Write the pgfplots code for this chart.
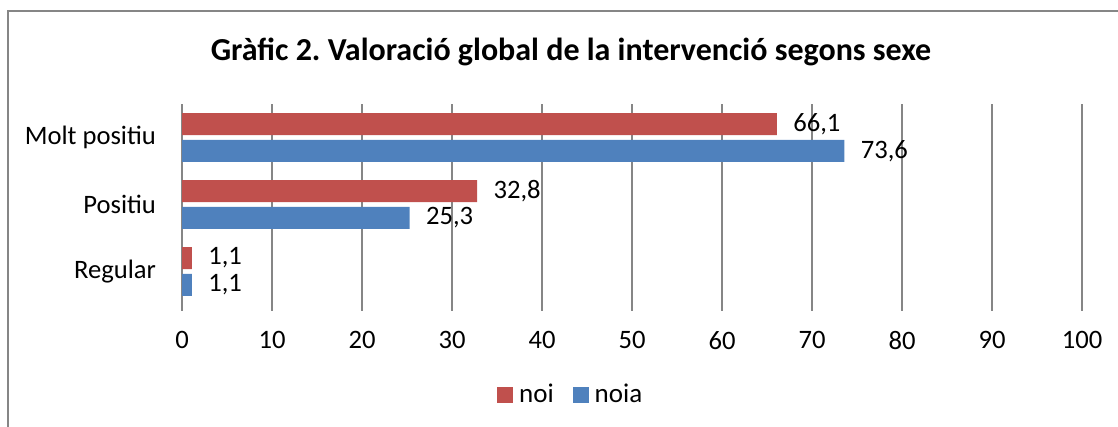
\documentclass[border=0pt]{standalone}
\usepackage{pgfplots}
\pgfplotsset{compat=1.18}
\usepackage{pgfplotstable}
\usepackage{fontspec}
\setmainfont{Carlito}
\frenchspacing

\definecolor{noired}{RGB}{192,80,77}
\definecolor{noiablue}{RGB}{79,129,189}
\definecolor{gridgray}{RGB}{134,134,134}

% y: 2 = Molt positiu, 1 = Positiu, 0 = Regular
\pgfplotstableread{
y x
2 66.1
1 32.8
0 1.1
}\noi
\pgfplotstableread{
y x
2 73.6
1 25.3
0 1.1
}\noia

\begin{document}
\begin{tikzpicture}
\useasboundingbox (0,0) rectangle (559pt,213.5pt);
% chart frame (cropped at right and bottom)
\draw[gridgray, line width=1pt] (4pt,0) -- (4pt,208pt) -- (559pt,208pt);
\node[font=\fontsize{16}{18}\selectfont\bfseries] at (285.5pt,187.5pt)
  {Gràfic 2. Valoració global de la intervenció segons sexe};

\begin{axis}[at={(91pt,61pt)}, anchor=south west,
    width=450pt, height=100.5pt, scale only axis,
    xbar, bar width=0.328,
    xmin=0, xmax=100, ymin=-0.5, ymax=2.5,
    xtick={0,10,...,100}, ytick={0,1,2},
    yticklabels={Regular,Positiu,Molt positiu},
    axis line style={draw=none},
    xmajorgrids, major grid style={gridgray, line width=0.9pt},
    xtick pos=left, ytick pos=left,
    tick align=outside, major tick length=3pt,
    x tick style={gridgray, line width=0.9pt},
    y tick style={draw=none},
    ticklabel style={font=\fontsize{13.3}{15}\selectfont},
    /pgf/number format/assume math mode=true,
    xticklabel style={yshift=-6.5pt},
    yticklabel style={xshift=-6.5pt},
    nodes near coords,
    nodes near coords style={anchor=west, inner sep=0pt, xshift=8pt,
        font=\fontsize{13.3}{15}\selectfont, black,
        /pgf/number format/fixed, /pgf/number format/fixed zerofill,
        /pgf/number format/precision=1, /pgf/number format/use comma,
        /pgf/number format/assume math mode=true},
    legend style={at={(axis description cs:0.433,-0.448)}, anchor=center,
        draw=none, legend columns=-1, font=\fontsize{13.5}{15}\selectfont,
        /tikz/every odd column/.append style={column sep=1pt},
        /tikz/every even column/.append style={column sep=7.5pt}},
    legend image code/.code={\fill[#1] (0pt,-4pt) rectangle (8pt,4pt);},
  ]
\addplot[fill=noired, draw=none, bar shift=0.2] table[x=x, y=y] {\noi};
\addplot[fill=noiablue, draw=none, bar shift=-0.2] table[x=x, y=y] {\noia};
\legend{noi, noia}
\end{axis}
\end{tikzpicture}
\end{document}
